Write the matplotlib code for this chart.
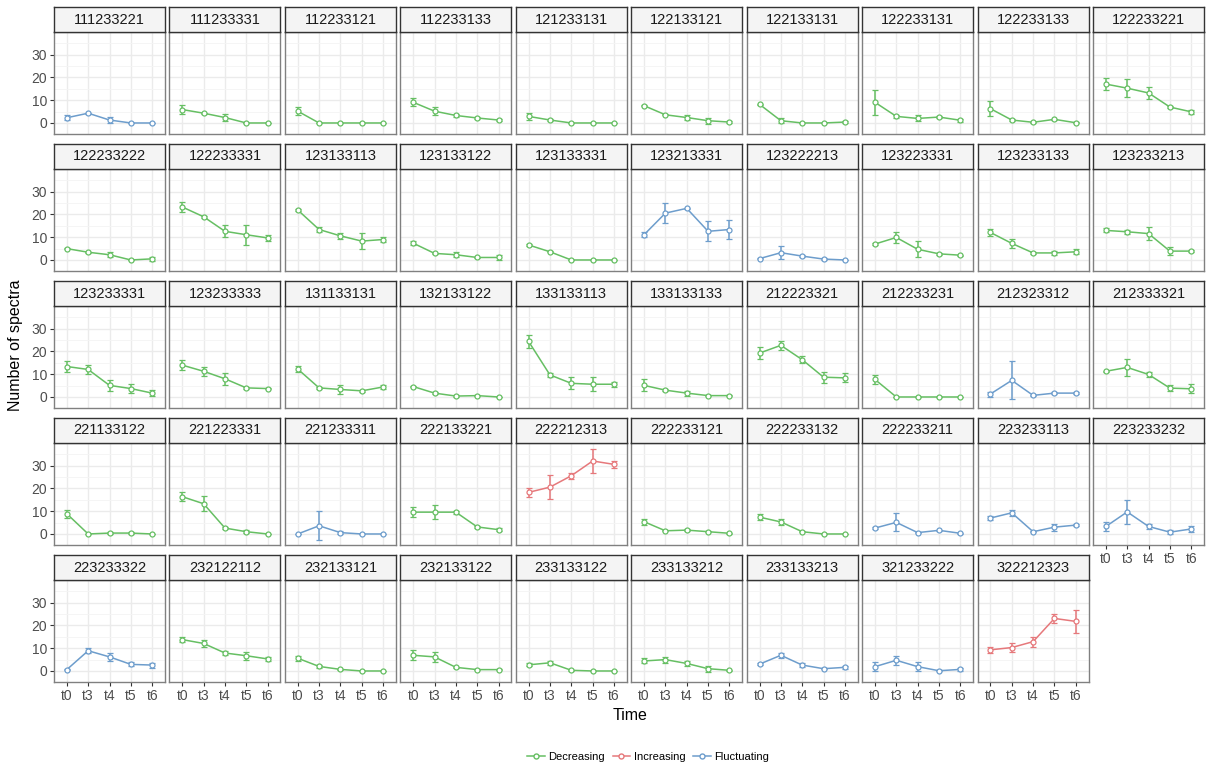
import matplotlib
matplotlib.use("Agg")
import matplotlib.pyplot as plt
from matplotlib.lines import Line2D

plt.rcParams["font.family"] = ["Liberation Sans", "DejaVu Sans"]

##########################################################

# data

times = ["t0", "t3", "t4", "t5", "t6"]

panels = [
    "111233221", "111233331", "112233121", "112233133", "121233131",
    "122133121", "122133131", "122233131", "122233133", "122233221",
    "122233222", "122233331", "123133113", "123133122", "123133331",
    "123213331", "123222213", "123223331", "123233133", "123233213",
    "123233331", "123233333", "131133131", "132133122", "133133113",
    "133133133", "212223321", "212233231", "212323312", "212333321",
    "221133122", "221223331", "221233311", "222133221", "222212313",
    "222233121", "222233132", "222233211", "223233113", "223233232",
    "223233322", "232122112", "232133121", "232133122", "233133122",
    "233133212", "233133213", "321233222", "322212323",
]

trend = [
    "F", "D", "D", "D", "D", "D", "D", "D", "D", "D",
    "D", "D", "D", "D", "D", "F", "F", "D", "D", "D",
    "D", "D", "D", "D", "D", "D", "D", "D", "F", "D",
    "D", "D", "F", "D", "I", "D", "D", "F", "F", "F",
    "F", "D", "D", "D", "D", "D", "F", "F", "I",
]

means = [
    [2.3, 4.3, 1.3, 0, 0], [5.9, 4.3, 2.4, 0, 0], [5.2, 0, 0, 0, 0],
    [9.1, 5.2, 3.3, 2.2, 1.3], [2.9, 1.3, 0, 0, 0],
    [7.6, 3.6, 2.4, 1.0, 0.4], [8.2, 1.0, 0, 0, 0.4], [9.1, 2.9, 2.0, 2.6, 1.2],
    [6.3, 1.3, 0.3, 1.6, 0.1], [17.1, 15.3, 13.2, 7.0, 4.9],
    [5.0, 3.4, 2.3, 0, 0.5], [23.3, 19.0, 12.6, 11.1, 9.7], [22.0, 13.4, 10.6, 8.3, 9.0],
    [7.4, 2.9, 2.3, 1.1, 1.1], [6.6, 3.6, 0, 0, 0],
    [11.1, 20.6, 22.7, 12.6, 13.4], [0.6, 3.2, 1.7, 0.4, 0], [7.0, 9.9, 4.7, 2.7, 2.1],
    [12.1, 7.3, 3.1, 3.1, 3.6], [13.0, 12.4, 11.6, 3.9, 3.9],
    [13.4, 12.1, 5.1, 3.7, 1.7], [14.0, 11.3, 8.0, 4.0, 3.7], [12.3, 4.0, 3.3, 2.7, 4.4],
    [4.6, 1.7, 0.4, 0.6, 0], [24.4, 9.7, 6.0, 5.6, 5.6],
    [5.1, 3.0, 1.7, 0.6, 0.6], [19.3, 22.7, 16.4, 8.7, 8.4], [7.7, 0, 0, 0, 0],
    [1.3, 7.3, 0.7, 1.7, 1.7], [11.3, 13.0, 9.9, 3.9, 3.6],
    [8.9, 0, 0.4, 0.4, 0], [16.4, 13.3, 2.6, 1.0, 0], [0, 3.6, 0.6, 0, 0],
    [9.6, 9.6, 9.6, 3.1, 1.9], [18.3, 20.6, 25.6, 32.1, 30.6],
    [5.4, 1.4, 1.7, 1.0, 0.3], [7.4, 5.3, 1.0, 0, 0], [2.6, 5.1, 0.6, 1.6, 0.3],
    [7.0, 9.3, 1.0, 3.0, 3.9], [3.3, 9.7, 3.3, 0.8, 2.2],
    [0.6, 8.9, 6.2, 2.9, 2.6], [13.8, 12.1, 7.9, 6.7, 5.3], [5.6, 2.0, 0.7, 0, 0],
    [6.9, 6.2, 1.6, 0.6, 0.6], [2.7, 3.6, 0.3, 0, 0],
    [4.4, 5.0, 3.3, 1.0, 0.3], [3.0, 6.9, 2.6, 1.0, 1.6], [1.9, 4.7, 1.9, 0.1, 0.7],
    [9.3, 10.3, 12.9, 23.1, 21.8],
]

errs = [
    [1.0, 0.3, 1.2, 0, 0], [1.9, 0.3, 1.7, 0, 0], [1.8, 0, 0, 0, 0],
    [1.7, 1.9, 0.8, 0.3, 0.4], [1.4, 0.3, 0, 0, 0],
    [0.3, 0.3, 1.3, 1.3, 0.3], [0.3, 1.2, 0, 0, 0.3], [5.4, 0.6, 1.3, 0.3, 0.6],
    [3.3, 0.6, 0.3, 0.3, 0.3], [2.6, 3.9, 2.5, 0.5, 0.8],
    [0.3, 0.3, 1.1, 0, 0.9], [2.3, 0.5, 2.6, 4.4, 1.3], [0.6, 1.0, 1.2, 3.4, 0.9],
    [0.9, 0.3, 1.0, 0.3, 1.0], [0.3, 0.3, 0, 0, 0],
    [1.0, 4.3, 0.3, 4.4, 4.1], [0.3, 2.8, 0.6, 0.3, 0], [0.3, 2.3, 3.5, 0.3, 0.3],
    [1.5, 2.0, 0.3, 1.0, 1.1], [0.9, 0.9, 3.0, 1.6, 0.6],
    [2.3, 2.0, 2.3, 2.0, 1.4], [2.1, 2.1, 2.6, 0.6, 0.3], [1.3, 0.6, 2.0, 0.3, 0.8],
    [0.3, 0.3, 0.3, 0.3, 0], [2.9, 1.0, 2.6, 3.0, 1.0],
    [2.6, 0.3, 1.1, 0.3, 0.3], [2.6, 2.0, 1.5, 2.4, 2.0], [2.0, 0, 0, 0, 0],
    [1.1, 8.3, 0.3, 0.6, 0.6], [0.3, 3.9, 1.3, 1.3, 1.9],
    [1.7, 0, 0.3, 0.3, 0], [1.9, 3.3, 0.3, 0.6, 0], [0, 6.3, 0.6, 0, 0],
    [2.1, 3.0, 0.6, 0.3, 0.8], [2.0, 5.3, 1.3, 5.3, 1.4],
    [1.3, 0.3, 0.6, 0.3, 0.3], [1.4, 1.3, 0.3, 0, 0], [0.3, 4.0, 0.3, 0.3, 0.3],
    [0.9, 1.3, 0.3, 1.6, 0.3], [2.0, 5.3, 1.3, 0.8, 1.3],
    [0.3, 1.0, 1.7, 0.9, 1.1], [1.0, 1.6, 0.9, 1.7, 0.7], [1.2, 0.8, 0.3, 0, 0],
    [2.2, 2.2, 0.3, 0.3, 0.3], [0.7, 1.0, 0.3, 0, 0],
    [1.1, 1.3, 1.3, 1.4, 0.3], [0.3, 1.0, 0.9, 0.3, 0.6], [1.9, 2.1, 1.9, 0.3, 0.8],
    [1.3, 1.9, 2.2, 2.0, 4.9],
]

trend_names = {"D": "Decreasing", "I": "Increasing", "F": "Fluctuating"}
colors = {"D": "#66BF63", "I": "#E6787B", "F": "#6D9DCC"}

############################################################

# layout (pixels of a 1208x767 figure)

W, H = 1208, 767
ncol = 10
left_px, pitch_x, pw = 54, 115.45, 111
top0_px, pitch_y, ph, sh = 32, 137, 102.35, 25

fig = plt.figure(figsize=(W / 100, H / 100), dpi=100)

xs = list(range(len(times)))

for i, name in enumerate(panels):
    r, c = divmod(i, ncol)
    x0 = left_px + c * pitch_x
    ytop = top0_px + r * pitch_y
    ax = fig.add_axes([x0 / W, 1 - (ytop + ph) / H, pw / W, ph / H])
    col = colors[trend[i]]

    ax.errorbar(xs, means[i], yerr=errs[i], color=col, lw=1.1, capsize=2,
                elinewidth=1.1, capthick=1.1, marker="o", ms=3.6,
                mfc="white", mec=col, mew=0.9, zorder=3)

    ax.set_xlim(-0.6, len(times) - 0.4)
    ax.set_ylim(-4.5, 40)
    ax.set_xticks(xs)
    ax.set_yticks([0, 10, 20, 30])
    ax.set_yticks([-5, 5, 15, 25, 35], minor=True)
    ax.grid(which="major", color="#EBEBEB", lw=1.0)
    ax.grid(which="minor", axis="y", color="#F4F4F4", lw=0.6)
    ax.set_axisbelow(True)
    for s in ax.spines.values():
        s.set_color("#808080")
        s.set_linewidth(1.0)
    ax.tick_params(which="minor", length=0)
    ax.tick_params(which="major", length=3, color="#333333", labelsize=10,
                   labelcolor="#4D4D4D", pad=2)

    # x labels only on the lowest panel of each column
    if i + ncol < len(panels):
        ax.tick_params(axis="x", length=0, labelbottom=False)
    else:
        ax.set_xticklabels(times)
    if c == 0:
        ax.set_yticklabels(["0", "10", "20", "30"])
    else:
        ax.tick_params(axis="y", length=0, labelleft=False)

    # facet strip
    sax = fig.add_axes([x0 / W, 1 - ytop / H, pw / W, sh / H])
    sax.set_xticks([])
    sax.set_yticks([])
    sax.set_facecolor("#F4F4F4")
    for s in sax.spines.values():
        s.set_color("#333333")
        s.set_linewidth(1.0)
    sax.text(0.5, 0.5, name, ha="center", va="center", fontsize=10.5,
             color="#1A1A1A", transform=sax.transAxes)

fig.text(16 / W, 1 - 345 / H, "Number of spectra", rotation=90,
         ha="center", va="center", fontsize=11.5)
fig.text(630 / W, 1 - 715 / H, "Time", ha="center", va="center", fontsize=11.5)

handles = [Line2D([0], [0], color=colors[k], lw=1.1, marker="o", ms=3.6,
                  mfc="white", mec=colors[k]) for k in ["D", "I", "F"]]
fig.legend(handles, [trend_names[k] for k in ["D", "I", "F"]], loc="center",
           bbox_to_anchor=(648 / W, 1 - 757 / H), ncol=3, frameon=False,
           fontsize=8, handlelength=1.6, columnspacing=0.7, handletextpad=0.3)

fig.savefig("out.png", dpi=100)
